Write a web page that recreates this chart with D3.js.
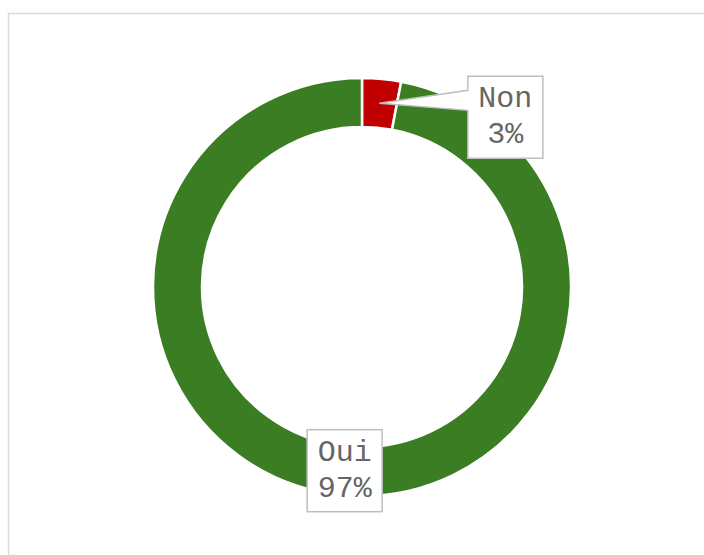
<!DOCTYPE html>
<html><head><meta charset="utf-8">
<script src="https://cdn.jsdelivr.net/npm/d3@7"></script>
<style>html,body{margin:0;padding:0;background:#fff;overflow:hidden}</style>
</head><body>
<svg id="c" width="704" height="555"></svg>
<script>
const categories = ["Non", "Oui"];
const values = [3, 97];
const labels = ["3%", "97%"];
const colors = ["#c00000", "#3b7d23"];

const svg = d3.select("#c");
svg.append("rect").attr("x", 8.5).attr("y", 13.5).attr("width", 720).attr("height", 560)
  .attr("fill", "#fff").attr("stroke", "#d9d9d9").attr("stroke-width", 1.5);

const cx = 362, cy = 287, R = 209, r = 160;
const g = svg.append("g").attr("transform", `translate(${cx},${cy})`);
const pie = d3.pie().sort(null).value(d => d)(values);
const arc = d3.arc().innerRadius(r).outerRadius(R);
const mid = d3.arc().innerRadius((R + r) / 2).outerRadius((R + r) / 2);

g.selectAll("path.s").data(pie).join("path").attr("class", "s")
  .attr("d", arc).attr("fill", (d, i) => colors[i])
  .attr("stroke", "#fff").attr("stroke-width", 2.5);

const bw = 75, bh = 82;
// label offsets relative to centroid (Non moved out with callout)
const offsets = [[126, 14], [0, 0]];
pie.forEach((d, i) => {
  const [mx, my] = mid.centroid(d);
  const lx = mx + offsets[i][0], ly = my + offsets[i][1];
  const x0 = lx - bw / 2, y0 = ly - bh / 2;
  if (i === 0) {
    const path = `M${x0},${y0} L${x0 + bw},${y0} L${x0 + bw},${y0 + bh} L${x0},${y0 + bh} L${x0},${y0 + 34} L${mx},${my} L${x0},${y0 + 14} Z`;
    g.append("path").attr("d", path).attr("fill", "#fff").attr("stroke", "#bfbfbf").attr("stroke-width", 1.5);
  } else {
    g.append("rect").attr("x", x0).attr("y", y0).attr("width", bw).attr("height", bh)
      .attr("fill", "#fff").attr("stroke", "#bfbfbf").attr("stroke-width", 1.5);
  }
  const t = g.append("text").attr("text-anchor", "middle")
    .attr("font-family", "'Courier New','Liberation Mono',monospace")
    .attr("font-size", 30).attr("fill", "#666666");
  t.append("tspan").attr("x", lx).attr("y", y0 + 31).text(categories[i]);
  t.append("tspan").attr("x", lx).attr("y", y0 + 67).text(labels[i]);
});
</script>
</body></html>
